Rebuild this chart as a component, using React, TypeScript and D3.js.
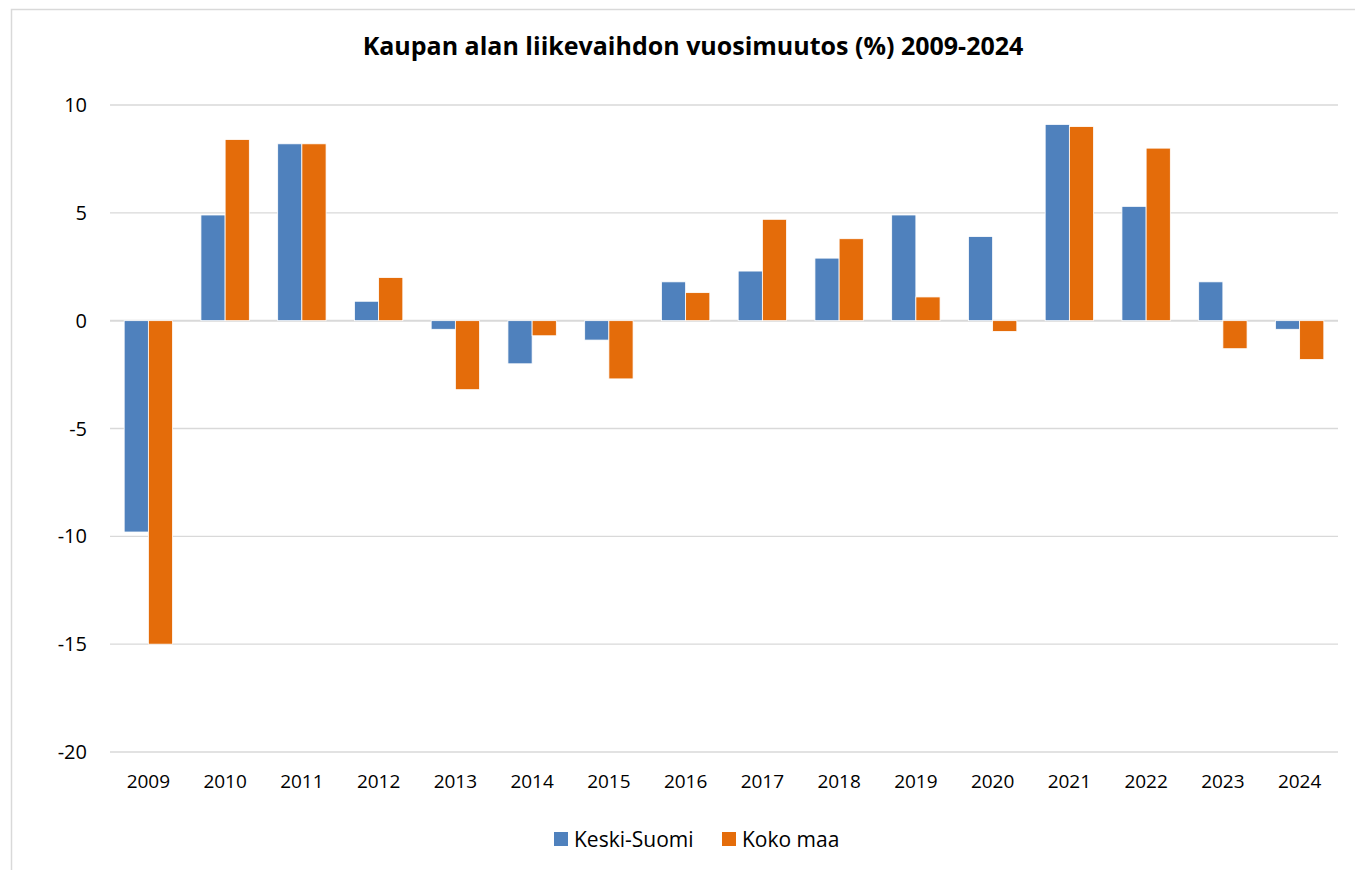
import React, { useEffect, useRef } from "react";
import * as d3 from "d3";

const years = ["2009", "2010", "2011", "2012", "2013", "2014", "2015", "2016", "2017", "2018", "2019", "2020", "2021", "2022", "2023", "2024"];
const keskiSuomi = [-9.8, 4.9, 8.2, 0.9, -0.4, -2.0, -0.9, 1.8, 2.3, 2.9, 4.9, 3.9, 9.1, 5.3, 1.8, -0.4];
const kokoMaa = [-15.0, 8.4, 8.2, 2.0, -3.2, -0.7, -2.7, 1.3, 4.7, 3.8, 1.1, -0.5, 9.0, 8.0, -1.3, -1.8];
const yTicks = [10, 5, 0, -5, -10, -15, -20];
const seriesNames = ["Keski-Suomi", "Koko maa"];
const colors = ["#4F81BD", "#E46C0A"];

const W = 1355, H = 870;
const FONT = "'Open Sans', sans-serif";

const drawChart = (svgRef) => {
	const svg = d3.select(svgRef.current);
	svg.selectAll("*").remove();

	const left = 110, right = 1338, top = 105, bottom = 752;

	// outer chart frame
	svg.append("rect")
		.attr("x", 11.5).attr("y", 9.5)
		.attr("width", W + 20).attr("height", H + 20)
		.attr("fill", "white").attr("stroke", "#d9d9d9").attr("stroke-width", 1.5);

	const x = d3.scaleBand().domain(years).range([left, right]).paddingInner(0).paddingOuter(0);
	const y = d3.scaleLinear().domain([-20, 10]).range([bottom, top]);
	const bw = 24.2;

	// gridlines
	svg.append("g").selectAll("line")
		.data(yTicks).enter().append("line")
		.attr("x1", left).attr("x2", right)
		.attr("y1", (d) => y(d)).attr("y2", (d) => y(d))
		.attr("stroke", "#d9d9d9")
		.attr("stroke-width", (d) => (d === 0 ? 2 : 1.3));

	// y labels
	svg.append("g").selectAll("text")
		.data(yTicks).enter().append("text")
		.attr("x", 87).attr("y", (d) => y(d) + 7)
		.attr("text-anchor", "end")
		.attr("font-family", FONT).attr("font-size", 20).attr("fill", "#000")
		.text((d) => d);

	// x labels
	svg.append("g").selectAll("text")
		.data(years).enter().append("text")
		.attr("x", (d) => x(d) + x.bandwidth() / 2).attr("y", 788)
		.attr("text-anchor", "middle")
		.attr("font-family", FONT).attr("font-size", 19).attr("fill", "#000")
		.text((d) => d);

	// bars
	[keskiSuomi, kokoMaa].forEach((vals, si) => {
		svg.append("g").selectAll("rect")
			.data(vals).enter().append("rect")
			.attr("x", (d, i) => x(years[i]) + x.bandwidth() / 2 - bw + si * bw)
			.attr("y", (d) => y(Math.max(0, d)))
			.attr("width", bw)
			.attr("height", (d) => Math.abs(y(d) - y(0)))
			.attr("fill", colors[si])
			.attr("stroke", "white").attr("stroke-width", 0.8);
	});

	// title
	svg.append("text")
		.attr("x", 693).attr("y", 55)
		.attr("text-anchor", "middle")
		.attr("font-family", FONT).attr("font-weight", "bold").attr("font-size", 25)
		.attr("fill", "#000")
		.text("Kaupan alan liikevaihdon vuosimuutos (%) 2009-2024");

	// legend
	const legendX = [554, 722];
	seriesNames.forEach((name, i) => {
		const g = svg.append("g").attr("transform", "translate(" + legendX[i] + ",832)");
		g.append("rect").attr("width", 14).attr("height", 14).attr("fill", colors[i]);
		g.append("text")
			.attr("x", 20).attr("y", 14.5)
			.attr("font-family", FONT).attr("font-size", 21).attr("fill", "#000")
			.text(name);
	});
};

const App = () => {
	const svg = useRef(null);

	useEffect(() => {
		drawChart(svg);
	}, []);

	return (
		<div style={{ position: "absolute", left: 0, top: 0, width: W, height: H, overflow: "hidden" }}>
			<svg ref={svg} width={W} height={H} />
		</div>
	);
};

export default App;
